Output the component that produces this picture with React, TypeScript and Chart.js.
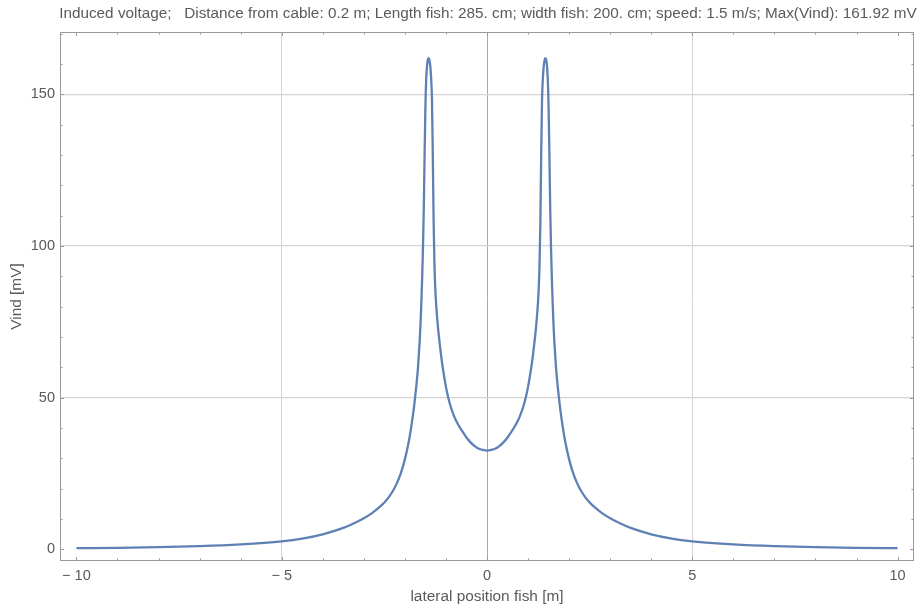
import React, { useEffect, useRef } from "react";
import { Chart, registerables } from "chart.js";

Chart.register(...registerables);

const TITLE =
  "Induced voltage;   Distance from cable: 0.2 m; Length fish: 285. cm; width fish: 200. cm; speed: 1.5 m/s; Max(Vind): 161.92 mV";
const X_LABEL = "lateral position fish [m]";
const Y_LABEL = "Vind [mV]";

// lateral position of the fish [m]
const positions = [
  -10, -9, -8, -7, -6, -5, -4.5, -4, -3.5, -3.2, -3, -2.8, -2.6, -2.5, -2.4, -2.3, -2.2, -2.1, -2.0,
  -1.9, -1.84, -1.8, -1.76, -1.72, -1.68, -1.64, -1.62, -1.6, -1.58, -1.56, -1.54, -1.52, -1.5, -1.48,
  -1.46, -1.44, -1.42, -1.4, -1.38, -1.36, -1.34, -1.32, -1.3, -1.28, -1.26, -1.24, -1.2, -1.15, -1.1,
  -1.05, -1.0, -0.95, -0.9, -0.8, -0.7, -0.6, -0.5, -0.4, -0.3, -0.2, -0.1, 0,
  0.1, 0.2, 0.3, 0.4, 0.5, 0.6, 0.7, 0.8, 0.9, 0.95, 1.0, 1.05, 1.1, 1.15, 1.2, 1.24, 1.26, 1.28, 1.3,
  1.32, 1.34, 1.36, 1.38, 1.4, 1.42, 1.44, 1.46, 1.48, 1.5, 1.52, 1.54, 1.56, 1.58, 1.6, 1.62, 1.64,
  1.68, 1.72, 1.76, 1.8, 1.84, 1.9, 2.0, 2.1, 2.2, 2.3, 2.4, 2.5, 2.6, 2.8, 3, 3.2, 3.5, 4, 4.5, 5, 6,
  7, 8, 9, 10,
];

// induced voltage [mV]
const voltages = [
  0.33, 0.45, 0.65, 1.0, 1.6, 2.6, 3.5, 4.9, 7.0, 8.8, 10.2, 11.9, 14.1, 15.4, 17.0, 19.0, 21.6, 25.0,
  29.6, 35.8, 40.8, 44.5, 49, 54, 60, 68.5, 74, 81, 89, 99, 112, 130, 146, 155,
  159.5, 161.4, 161.92, 161.0, 159, 155, 148, 130, 108, 94, 86, 81, 74, 67.5, 62,
  57.5, 53.5, 50.3, 47.7, 43.8, 41, 38.8, 36.8, 35.2, 34, 33.1, 32.7, 32.5,
  32.7, 33.1, 34, 35.2, 36.8, 38.8, 41, 43.8, 47.7, 50.3, 53.5, 57.5, 62, 67.5, 74, 81, 86, 94, 108,
  130, 148, 155, 159, 161.0, 161.92, 161.4, 159.5, 155, 146, 130, 112, 99, 89, 81, 74, 68.5,
  60, 54, 49, 44.5, 40.8, 35.8, 29.6, 25.0, 21.6, 19.0, 17.0, 15.4, 14.1, 11.9, 10.2, 8.8, 7.0, 4.9, 3.5,
  2.6, 1.6, 1.0, 0.65, 0.45, 0.33,
];

const X_MAJOR = [-10, -5, 0, 5, 10];
const Y_MAJOR = [0, 50, 100, 150];
const X_MINOR = [-9, -8, -7, -6, -4, -3, -2, -1, 1, 2, 3, 4, 6, 7, 8, 9];
const Y_MINOR = [10, 20, 30, 40, 60, 70, 80, 90, 110, 120, 130, 140, 160, 170];

const FONT = "'Liberation Sans', Arial, sans-serif";
const TEXT_COLOR = "#5a5a5a";
const FRAME_COLOR = "#9a9a9a";
const LINE_COLOR = "#5E81B5";

const fmt = (v: number) => (v < 0 ? "\u2212 " + Math.abs(v) : String(v));

const framePlugin = {
  id: "frameTicks",
  afterDatasetsDraw(chart: any) {
    const { ctx, chartArea: a, scales } = chart;
    const x = scales.x;
    const y = scales.y;
    ctx.save();
    ctx.strokeStyle = FRAME_COLOR;
    ctx.lineWidth = 1;
    const seg = (x1: number, y1: number, x2: number, y2: number) => {
      ctx.beginPath();
      ctx.moveTo(x1, y1);
      ctx.lineTo(x2, y2);
      ctx.stroke();
    };
    const xt = (vals: number[], len: number) => {
      vals.forEach((v) => {
        const px = Math.round(x.getPixelForValue(v)) + 0.5;
        seg(px, a.bottom, px, a.bottom - len);
        seg(px, a.top, px, a.top + len);
      });
    };
    const yt = (vals: number[], len: number) => {
      vals.forEach((v) => {
        const py = Math.round(y.getPixelForValue(v)) + 0.5;
        seg(a.left, py, a.left + len, py);
        seg(a.right, py, a.right - len, py);
      });
    };
    xt(X_MAJOR, 4);
    xt(X_MINOR, 2.5);
    yt(Y_MAJOR, 4);
    yt(Y_MINOR, 2.5);
    ctx.strokeRect(a.left + 0.5, a.top + 0.5, a.right - a.left - 1, a.bottom - a.top - 1);
    ctx.restore();
  },
  afterDraw(chart: any) {
    const { ctx, chartArea: a } = chart;
    ctx.save();
    ctx.fillStyle = TEXT_COLOR;
    ctx.font = `15.3px ${FONT}`;
    ctx.textAlign = "center";
    ctx.textBaseline = "middle";
    ctx.fillText(TITLE, (a.left + a.right) / 2 + 1, 14);
    ctx.restore();
  },
};

export default function App() {
  const ref = useRef<HTMLCanvasElement | null>(null);
  useEffect(() => {
    if (!ref.current) return;
    const points = positions.map((p, i) => ({ x: p, y: voltages[i] }));
    const chart = new Chart(ref.current, {
      type: "line",
      data: {
        datasets: [
          {
            data: points,
            borderColor: LINE_COLOR,
            backgroundColor: LINE_COLOR,
            borderWidth: 2.3,
            pointRadius: 0,
            fill: false,
            cubicInterpolationMode: "monotone",
          },
        ],
      },
      options: {
        animation: false,
        responsive: false,
        devicePixelRatio: 1,
        layout: { padding: { top: 32, right: 3, left: 0, bottom: 0 } },
        plugins: { legend: { display: false }, tooltip: { enabled: false }, title: { display: false } },
        scales: {
          x: {
            type: "linear",
            min: -10.4,
            max: 10.4,
            afterBuildTicks: (s: any) => {
              s.ticks = X_MAJOR.map((v) => ({ value: v }));
            },
            afterFit: (s: any) => {
              s.height = 47;
            },
            border: { display: false },
            grid: {
              drawTicks: false,
              lineWidth: 1,
              color: (c: any) =>
                c.tick && c.tick.value === 0
                  ? "#a8a8a8"
                  : c.tick && Math.abs(c.tick.value) === 5
                  ? "#d4d4d4"
                  : "rgba(0,0,0,0)",
            },
            ticks: {
              autoSkip: false,
              maxRotation: 0,
              padding: 6,
              color: TEXT_COLOR,
              font: { family: FONT, size: 14.5 },
              callback: (v: any) => fmt(Number(v)),
            },
            title: {
              display: true,
              text: X_LABEL,
              color: TEXT_COLOR,
              font: { family: FONT, size: 15.4 },
              padding: { top: 0, bottom: 1.8 },
            },
          },
          y: {
            type: "linear",
            min: -3.9,
            max: 170.5,
            afterBuildTicks: (s: any) => {
              s.ticks = Y_MAJOR.map((v) => ({ value: v }));
            },
            afterFit: (s: any) => {
              s.width = 60;
            },
            border: { display: false },
            grid: {
              drawTicks: false,
              lineWidth: 1.3,
              color: (c: any) => (c.tick && c.tick.value === 0 ? "rgba(0,0,0,0)" : "#d4d4d4"),
            },
            ticks: {
              autoSkip: false,
              padding: 5,
              color: TEXT_COLOR,
              font: { family: FONT, size: 14.5 },
              callback: (v: any) => fmt(Number(v)),
            },
            title: {
              display: true,
              text: Y_LABEL,
              color: TEXT_COLOR,
              font: { family: FONT, size: 15.4 },
              padding: { top: 7.8, bottom: 0 },
            },
          },
        },
      },
      plugins: [framePlugin],
    } as any);
    return () => chart.destroy();
  }, []);
  return (
    <div style={{ position: "absolute", left: 0, top: 0, width: 917, height: 608, background: "#fff" }}>
      <canvas ref={ref} width={917} height={608} style={{ display: "block" }} />
    </div>
  );
}
